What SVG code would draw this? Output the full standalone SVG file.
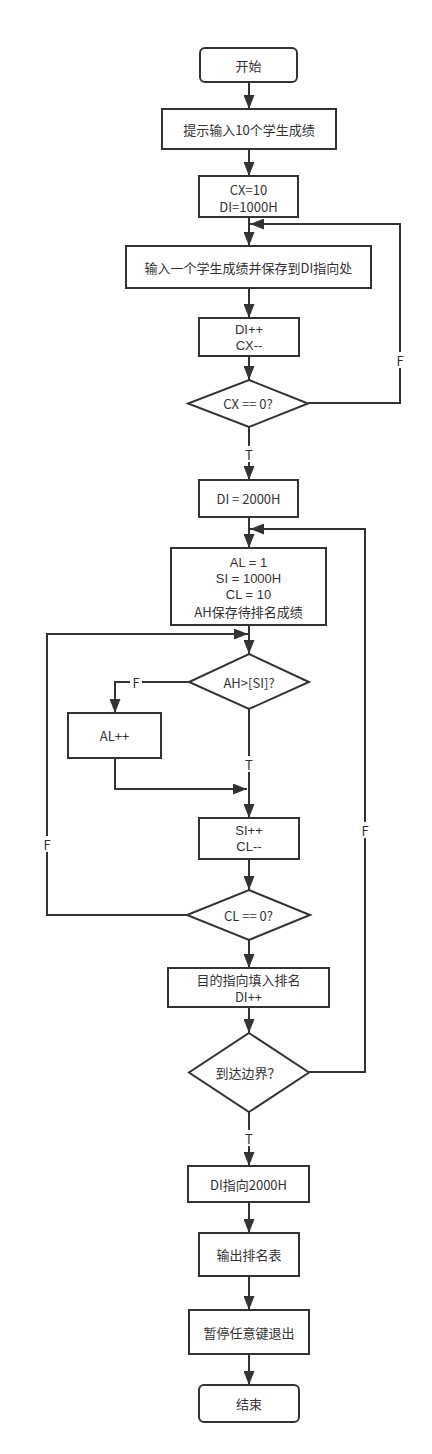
<svg xmlns="http://www.w3.org/2000/svg" width="432" height="1454" viewBox="0 0 432 1454">
<defs>
<style>
.n{fill:#fff;stroke:#333;stroke-width:2}
.t{font-family:"Noto Sans CJK SC","Liberation Sans",sans-serif;font-size:13px;fill:#333;text-anchor:middle;dominant-baseline:central}
.l{font-family:"Liberation Sans",sans-serif}
.c{fill:none;stroke:#333;stroke-width:2}
.lb{fill:#fff}
</style>
<marker id="a" markerUnits="userSpaceOnUse" viewBox="0 0 14 11" refX="14" refY="5.5" markerWidth="14" markerHeight="11" orient="auto"><path d="M0,0 L14,5.5 L0,11 z" fill="#333"/></marker>
</defs>
<rect width="432" height="1454" fill="#fff"/>
<g id="connectors">
<path class="c" d="M249,82V109" marker-end="url(#a)"/>
<path class="c" d="M249,149V176" marker-end="url(#a)"/>
<path class="c" d="M249,217V246" marker-end="url(#a)"/>
<path class="c" d="M249,288V318" marker-end="url(#a)"/>
<path class="c" d="M249,356V380" marker-end="url(#a)"/>
<path class="c" d="M249,427V480" marker-end="url(#a)"/>
<path class="c" d="M308,403H400V224H250" marker-end="url(#a)"/>
<path class="c" d="M249,517V548" marker-end="url(#a)"/>
<path class="c" d="M309,1072H365V529H250" marker-end="url(#a)"/>
<path class="c" d="M249,625V654" marker-end="url(#a)"/>
<path class="c" d="M187,915H47V634H248" marker-end="url(#a)"/>
<path class="c" d="M189,682H115V713" marker-end="url(#a)"/>
<path class="c" d="M115,758V789H247" marker-end="url(#a)"/>
<path class="c" d="M249,709V818" marker-end="url(#a)"/>
<path class="c" d="M249,859V890" marker-end="url(#a)"/>
<path class="c" d="M249,940V968" marker-end="url(#a)"/>
<path class="c" d="M249,1007V1033" marker-end="url(#a)"/>
<path class="c" d="M249,1112V1166" marker-end="url(#a)"/>
<path class="c" d="M249,1202V1233" marker-end="url(#a)"/>
<path class="c" d="M249,1276V1310" marker-end="url(#a)"/>
<path class="c" d="M249,1354V1385" marker-end="url(#a)"/>
<rect class="lb" x="243" y="446" width="12" height="16"/><text class="t" x="249" y="454">T</text>
<rect class="lb" x="394" y="352" width="12" height="16"/><text class="t" x="400" y="360">F</text>
<rect class="lb" x="359" y="822" width="12" height="16"/><text class="t" x="365" y="830">F</text>
<rect class="lb" x="41" y="836" width="12" height="16"/><text class="t" x="47" y="844">F</text>
<rect class="lb" x="130" y="674" width="12" height="16"/><text class="t" x="136" y="682">F</text>
<rect class="lb" x="243" y="756" width="12" height="16"/><text class="t" x="249" y="764">T</text>
<rect class="lb" x="243" y="1130" width="12" height="16"/><text class="t" x="249" y="1138">T</text>
</g>
<g id="start"><rect class="n" x="200" y="48" width="97" height="34" rx="5"/><text class="t" x="248.5" y="65">开始</text></g>
<g id="prompt"><rect class="n" x="162" y="109" width="174" height="40"/><text class="t" x="249" y="129">提示输入10个学生成绩</text></g>
<g id="init1"><rect class="n" x="199" y="176" width="99" height="41"/><text class="t" x="248.5" y="189">CX=10</text><text class="t" x="248.5" y="206">DI=1000H</text></g>
<g id="input"><rect class="n" x="126" y="246" width="245" height="42"/><text class="t" x="248.5" y="267">输入一个学生成绩并保存到DI指向处</text></g>
<g id="inc1"><rect class="n" x="199" y="318" width="100" height="38"/><text class="t l" x="249" y="329">DI++</text><text class="t l" x="249" y="345">CX--</text></g>
<g id="cond1"><polygon class="n" points="249,380 308,403.5 249,427 188,403.5"/><text class="t" x="248" y="403.5">CX == 0?</text></g>
<g id="di2000"><rect class="n" x="199" y="480" width="99" height="37"/><text class="t" x="248.5" y="498.5">DI = 2000H</text></g>
<g id="init2"><rect class="n" x="171" y="548" width="155" height="77"/><text class="t l" x="248.5" y="562">AL = 1</text><text class="t l" x="248.5" y="578">SI = 1000H</text><text class="t l" x="248.5" y="594">CL = 10</text><text class="t" x="248.5" y="611">AH保存待排名成绩</text></g>
<g id="cond2"><polygon class="n" points="249,654 309,682 249,709 189,682"/><text class="t" x="249" y="682">AH&gt;[SI]?</text></g>
<g id="alinc"><rect class="n" x="68" y="713" width="93" height="45"/><text class="t" x="114.5" y="735.5">AL++</text></g>
<g id="inc2"><rect class="n" x="199" y="818" width="100" height="41"/><text class="t l" x="249" y="830">SI++</text><text class="t l" x="249" y="846">CL--</text></g>
<g id="cond3"><polygon class="n" points="249,890 310,915 249,940 187,915"/><text class="t" x="248.5" y="915">CL == 0?</text></g>
<g id="fill"><rect class="n" x="168" y="968" width="161" height="39"/><text class="t" x="248.5" y="979">目的指向填入排名</text><text class="t" x="248.5" y="996">DI++</text></g>
<g id="cond4"><polygon class="n" points="249,1033 309,1072.5 249,1112 189,1072.5"/><text class="t" x="248" y="1072.5">到达边界？</text></g>
<g id="di2000b"><rect class="n" x="188" y="1166" width="121" height="36"/><text class="t" x="248.5" y="1184">DI指向2000H</text></g>
<g id="output"><rect class="n" x="199" y="1233" width="100" height="43"/><text class="t" x="249" y="1254.5">输出排名表</text></g>
<g id="pause"><rect class="n" x="189" y="1310" width="120" height="44"/><text class="t" x="249" y="1332">暂停任意键退出</text></g>
<g id="end"><rect class="n" x="199" y="1385" width="100" height="37" rx="5"/><text class="t" x="249" y="1403.5">结束</text></g>
</svg>
